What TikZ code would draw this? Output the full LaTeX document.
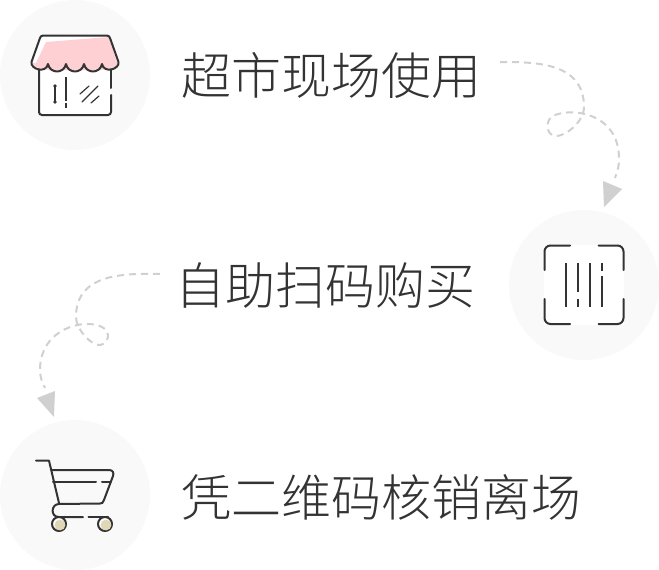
\documentclass[tikz,border=0pt]{standalone}
\usepackage{fontspec}
\newfontfamily\cjk[UprightFont={* Light}]{Noto Sans CJK SC}
\usetikzlibrary{arrows.meta}
\definecolor{disc}{HTML}{F9F9F9}
\definecolor{ink}{HTML}{333333}
\definecolor{awning}{HTML}{FFD0D3}
\definecolor{wheel}{HTML}{E0D7B5}
\definecolor{trail}{HTML}{D0D0D0}
\tikzset{
  icon/.style={draw=ink,line width=2pt,line cap=round,line join=round},
  trailline/.style={draw=trail,line width=2pt,dash pattern=on 7pt off 5pt},
  trailtip/.style={fill=trail,draw=none}
}
\begin{document}
\begin{tikzpicture}[x=1pt,y=-1pt]
\useasboundingbox (0,0) rectangle (659,570);

\begin{scope}[every node/.style={circle,fill=disc,inner sep=0pt,minimum size=150pt}]
    \node (shopdisc) at (75,75) {};
    \node (scandisc) at (584,285) {};
    \node (cartdisc) at (75,495) {};
\end{scope}

\begin{scope}[every node/.style={anchor=west,inner sep=0pt,text=ink,font=\cjk\fontsize{50}{50}\selectfont}]
    \node (shoptext) at (181,75) {超市现场使用};
    \node (scantext) at (175,285) {自助扫码购买};
    \node (carttext) at (181,497) {凭二维码核销离场};
\end{scope}

% shop
\path [fill=white] (39,68) rectangle (111,115);
\draw [icon] (111,88) -- (111,70);
\draw [icon,rounded corners=3pt] (111,95) -- (111,115) -- (39,115) -- (39,70);
\path [fill=white] (40,35) -- (110,35) -- (119,65) -- (31,65) -- cycle;
\path [fill=awning] (46,42) -- (109,37) -- (118,66) -- (38,68) -- (36,63) -- cycle;
\path [fill=awning] (33,63) -- (118,63) -- (118,66) -- (102,70) -- (48,70) -- (33,66) -- cycle;
\draw [icon,fill=none] (43,35.5) -- (107,35.5) .. controls (109,35.5) and (109.5,37) .. (110,38)
    -- (118.5,62) .. controls (120,69) and (104,74) .. (102,64)
    .. controls (100,74) and (86,74) .. (84,64)
    .. controls (82,74) and (68,74) .. (66,64)
    .. controls (64,74) and (50,74) .. (48,64)
    .. controls (46,74) and (30,69) .. (31.5,62)
    -- (40,38) .. controls (40.5,37) and (41,35.5) .. (43,35.5) -- cycle;
\draw [icon,line width=1.5pt] (55,86) -- (55,102);
\fill [ink] (55,86) circle (1.8pt) (55,102) circle (1.8pt);
\draw [icon,line cap=butt] (66,77) -- (66,101) (66,103) -- (66,108);
\draw [icon,line width=1.2pt] (80,94) -- (89,86) (82,102) -- (98,86) (91,103) -- (99,96);

% scan
\path [fill=white] (544,245) rectangle (624,325);
\draw [icon,rounded corners=6pt] (544.5,270) -- (544.5,245.5) -- (570,245.5);
\draw [icon,rounded corners=6pt] (598.5,245.5) -- (623.5,245.5) -- (623.5,270);
\draw [icon,rounded corners=6pt] (544.5,299) -- (544.5,324) -- (570,324);
\draw [icon,rounded corners=6pt] (598.5,324) -- (623.5,324) -- (623.5,299);
\draw [icon,line cap=butt] (565.7,263) -- (565.7,307);
\draw [icon,line cap=butt] (577.7,263) -- (577.7,292) (577.7,299) -- (577.7,307);
\draw [icon,line cap=butt] (589.7,263) -- (589.7,307);
\draw [icon,line cap=butt] (602,263) -- (602,271) (602,276) -- (602,307);

% cart
\draw [icon] (36,460.7) -- (49,460.7) -- (59,503);
\draw [icon] (52,470) -- (109,470) .. controls (113,470) and (114,473) .. (113,476)
    -- (104,500) .. controls (103,503) and (102,503.5) .. (100,503.5) -- (59,504)
    .. controls (51,504) and (50,517) .. (59,517) -- (83,517);
\draw [icon] (88.5,517) -- (108,517);
\draw [icon] (53,482) -- (96,482) (102,482) -- (111,482);
\node (leftwheel) at (59,524) [circle,icon,fill=white,inner sep=0pt,minimum size=14pt] {};
\node (rightwheel) at (105,524) [circle,icon,fill=white,inner sep=0pt,minimum size=14pt] {};
\fill [wheel] (60,525) circle (5.4pt) (106,525) circle (5.4pt);

% trails
\coordinate (trailstartA) at (500,62);
\coordinate (trailendA) at (615,178);
\coordinate (trailstartB) at (160,274);
\coordinate (trailendB) at (45,388);
\draw [trailline] (trailstartA) .. controls (535,62) and (584,62) .. (584,107)
    .. controls (584,122) and (565,137) .. (555,136)
    .. controls (546,135) and (545,120) .. (553,116)
    .. controls (570,107) and (620,112) .. (619,160)
    .. controls (619,167) and (617,172) .. (trailendA);
\draw [trailline] (trailstartB) .. controls (120,273) and (76,275) .. (76,317)
    .. controls (76,330) and (92,346) .. (100,345)
    .. controls (108,344) and (112,332) .. (102,327)
    .. controls (85,318) and (40,328) .. (40,370)
    .. controls (40,377) and (42,382) .. (trailendB);
\path [trailtip] (603,181) -- (622,189) -- (604,207) -- cycle;
\path [trailtip] (37,398) -- (55,391) -- (54,417) -- cycle;
\end{tikzpicture}
\end{document}
